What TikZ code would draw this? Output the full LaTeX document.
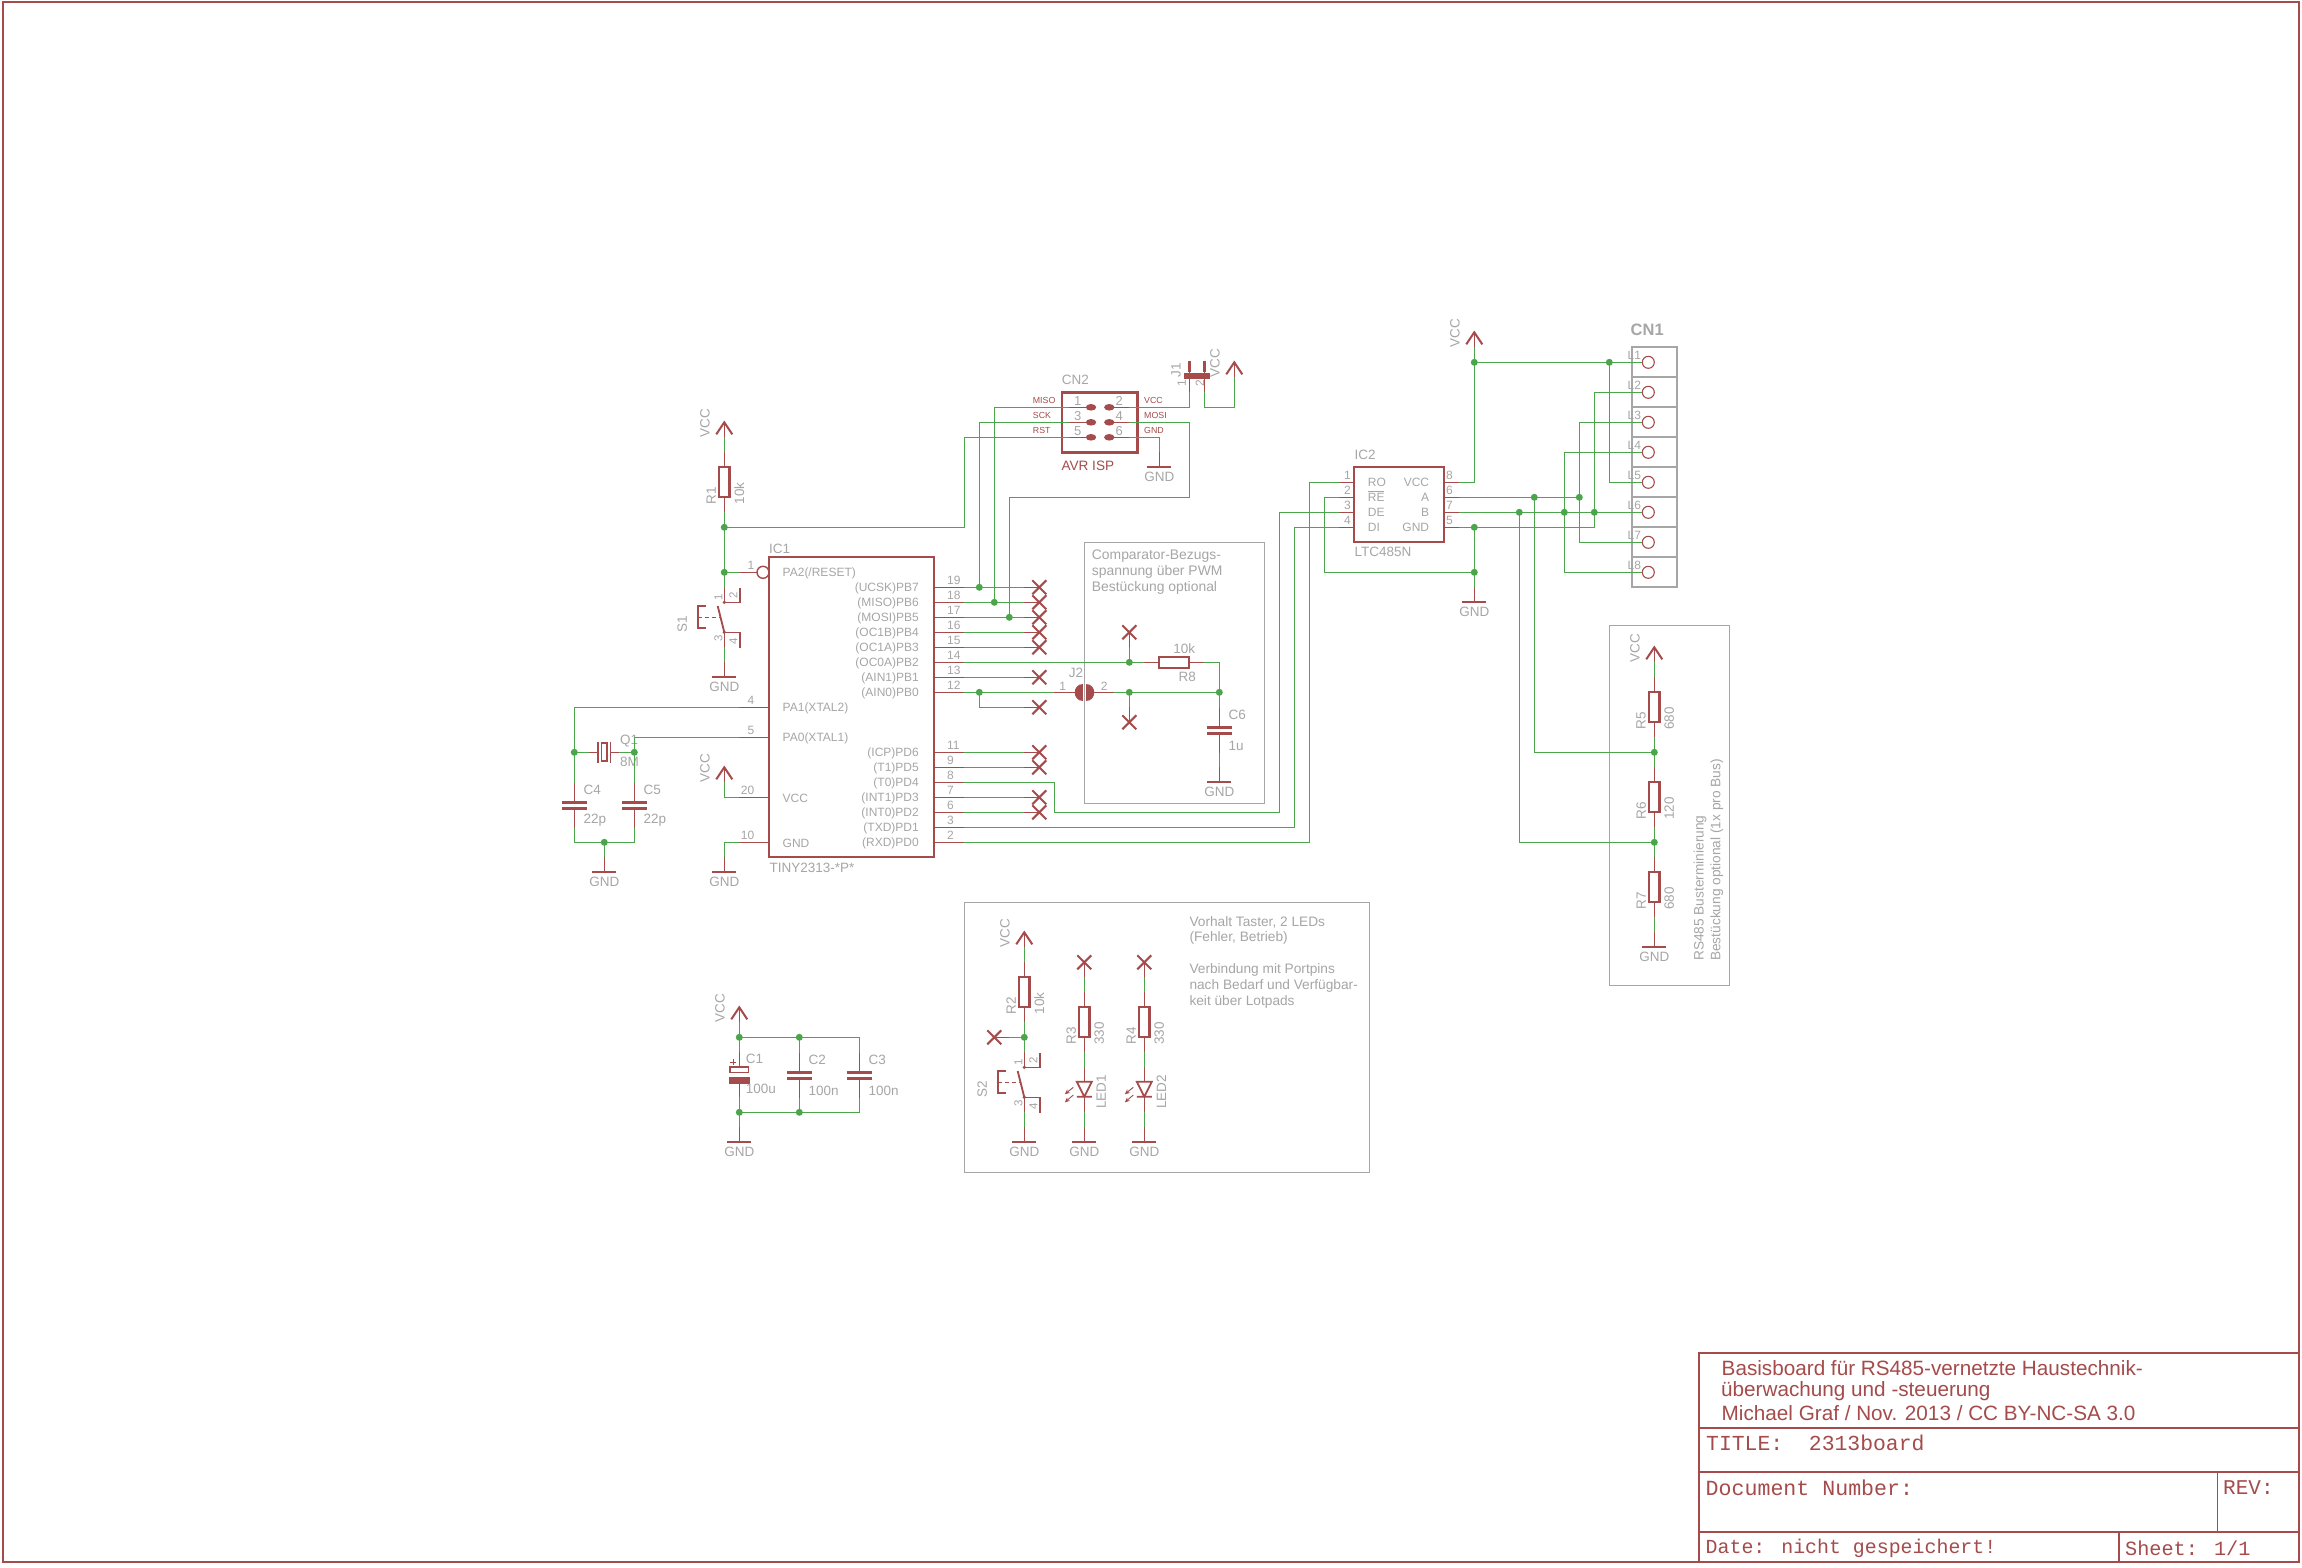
\documentclass[tikz,border=0pt]{standalone}
\usepackage{fontspec}
\setmainfont{Liberation Sans}
\newfontfamily\vecfont{Liberation Mono}
\usetikzlibrary{arrows.meta}
\definecolor{ered}{HTML}{A54B4B}
\definecolor{egreen}{HTML}{4BA54B}
\definecolor{egray}{HTML}{A6A6A6}
\newcount\labc
\newcommand\fs[1]{\fontsize{#1}{#1}\selectfont}
\tikzset{
  wire/.style={draw=egreen,line width=1.4pt,line join=miter},
  stub/.style={draw=ered,line width=1.3pt},
  sym/.style={draw=ered,line width=2.2pt,line join=miter},
  gbox/.style={draw=egray,line width=1.4pt},
  gt/.style={text=egray,inner sep=0pt,font=\fs{13.5}},
  gs/.style={text=egray,inner sep=0pt,font=\fs{12}},
  rt/.style={text=ered,inner sep=0pt,font=\fs{13.5}},
  frame/.style={draw=ered,line width=1.8pt},
  vt/.style={text=ered,inner sep=0pt,anchor=west,font=\vecfont\fs{21}},
  tt/.style={text=ered,inner sep=0pt,anchor=west,font=\fs{20.7}},
  note/.style={text=egray,inner sep=0pt,anchor=west,font=\fs{13.7}},
}
\newcommand\lab[3]{\global\advance\labc by 1 \node[#1] (lab\the\labc) at (#2) {#3};}
\newcommand\Jct[1]{\fill[egreen] (#1) circle[radius=3.5pt];}
\newcommand\VccSym[3]{\coordinate (#1) at (#2,#3);
  \draw[stub] (#2,#3) -- (#2,#3-15);
  \draw[draw=ered,line width=2pt,line join=miter] (#2-8,#3-3) -- (#2,#3-15) -- (#2+8,#3-3);
  \lab{gt,rotate=90}{#2-19.3,#3-14.3}{VCC}}
\newcommand\GndSym[3]{\coordinate (#1) at (#2,#3);
  \draw[stub] (#2,#3) -- (#2,#3+15);
  \draw[draw=ered,line width=2pt] (#2-12,#3+15) -- (#2+12,#3+15);
  \lab{gt}{#2,#3+25}{GND}}
\newcommand\ResV[5]{\coordinate (#1a) at (#2,#3-30); \coordinate (#1b) at (#2,#3+30);
  \draw[stub] (#2,#3-30) -- (#2,#3-15) (#2,#3+15) -- (#2,#3+30);
  \draw[sym] (#2-5.2,#3-15) rectangle (#2+5.2,#3+15);
  \lab{gt,rotate=90}{#2-13.2,#3+13.7}{#4}
  \lab{gt,rotate=90}{#2+15,#3+11.3}{#5}}
\newcommand\CapV[5]{\coordinate (#1a) at (#2,#3-22.5); \coordinate (#1b) at (#2,#3+22.5);
  \draw[stub] (#2,#3-22.5) -- (#2,#3-3) (#2,#3+3) -- (#2,#3+22.5);
  \draw[draw=ered,line width=2.8pt] (#2-12.5,#3-3) -- (#2+12.5,#3-3) (#2-12.5,#3+3) -- (#2+12.5,#3+3);
  \lab{gt,anchor=west}{#2+9.2,#3-15.3}{#4}
  \lab{gt,anchor=west}{#2+9.2,#3+15.3}{#5}}
\newcommand\NC[5]{\coordinate (#1) at (#4,#5);
  \draw[stub] (#2,#3) -- (#4,#5);
  \draw[draw=ered,line width=2pt] (#2-7,#3-7) -- (#2+7,#3+7) (#2-7,#3+7) -- (#2+7,#3-7);}
\newcommand\PinR[4]{\coordinate (#1) at (964.3,#4);
  \draw[stub] (934.3,#4) -- (964.3,#4);
  \lab{gs,anchor=base west}{947,#4-3}{#2}
  \lab{gs,anchor=east}{919,#4+1}{#3}}
\newcommand\PinL[4]{\coordinate (#1) at (739.3,#4);
  \draw[stub] (739.3,#4) -- (769.3,#4);
  \lab{gs,anchor=base east}{754.5,#4-3}{#2}
  \lab{gs,anchor=west}{782.5,#4+1}{#3}}
\newcommand\SwitchSym[4]{\coordinate (#1a) at (#2,#3-15); \coordinate (#1b) at (#2,#3+45);
  \draw[stub] (#2,#3-15) -- (#2,#3) (#2,#3+30) -- (#2,#3+45);
  \fill[ered] (#2,#3) circle[radius=1.8pt] (#2,#3+30) circle[radius=1.8pt];
  \draw[draw=ered,line width=1.8pt] (#2-6.6,#3+3.7) -- (#2,#3+30);
  \draw[draw=ered,line width=1.1pt] (#2,#3) -- (#2+15.7,#3) -- (#2+15.7,#3-14.6) (#2,#3+30) -- (#2+15.7,#3+30) -- (#2+15.7,#3+45.4);
  \draw[sym,line width=1.8pt] (#2-18.3,#3+3.7) -- (#2-26.6,#3+3.7) -- (#2-26.6,#3+25.4) -- (#2-18.3,#3+25.4);
  \draw[draw=ered,line width=1pt,dash pattern=on 4pt off 3pt] (#2-26.6,#3+15) -- (#2-5,#3+15);
  \lab{gs,rotate=90,font=\fs{11.5}}{#2-6,#3-5.3}{1}
  \lab{gs,rotate=90,font=\fs{11.5}}{#2+9,#3-6.6}{2}
  \lab{gs,rotate=90,font=\fs{11.5}}{#2-6,#3+35.7}{3}
  \lab{gs,rotate=90,font=\fs{11.5}}{#2+9,#3+39.4}{4}
  \lab{gt,rotate=90}{#2-42,#3+21.7}{#4}}
\newcommand\LedSym[4]{\coordinate (#1a) at (#2,#3-14.4); \coordinate (#1b) at (#2,#3+30.6);
  \draw[stub] (#2,#3-14.4) -- (#2,#3) (#2,#3+15) -- (#2,#3+30.6);
  \draw[sym,line width=1.8pt] (#2-7.5,#3) -- (#2+7.5,#3) -- (#2,#3+15) -- cycle (#2-7.5,#3+15) -- (#2+7.5,#3+15);
  \draw[draw=ered,line width=.9pt,-{Stealth[length=5pt,width=4.5pt]}] (#2-11,#3+5.6) -- (#2-19.5,#3+12.5);
  \draw[draw=ered,line width=.9pt,-{Stealth[length=5pt,width=4.5pt]}] (#2-11,#3+13.3) -- (#2-19.5,#3+20.6);
  \lab{gt,rotate=90}{#2+17,#3+10}{#4}}
\newcommand\ClPin[3]{\coordinate (#1) at (1642.3,#2);
  \draw[draw=ered,line width=1.1pt] (1648.3,#2) circle[radius=6pt];
  \lab{gs,anchor=west}{1627.5,#2-6.6}{#3}}
\begin{document}
\begin{tikzpicture}[x=1pt,y=-1pt]
\useasboundingbox (0,0) rectangle (2302,1567);
\fill[white] (0,0) rectangle (2302,1567);
% sheet frame and title block
\draw[frame] (3,1.8) rectangle (2299,1561.7);
\draw[frame] (1699.3,1561.7) -- (1699.3,1352.7) -- (2299,1352.7);
\draw[frame] (1699.3,1427.7) -- (2299,1427.7) (1699.3,1472.3) -- (2299,1472.3) (1699.3,1532.3) -- (2299,1532.3);
\draw[frame] (2217.5,1472.3) -- (2217.5,1532.3) (2119.3,1532.3) -- (2119.3,1561.7);
\lab{tt}{1721.5,1368.3}{Basisboard für RS485-vernetzte Haustechnik-}
\lab{tt}{1721,1390.7}{überwachung und -steuerung}
\lab{tt}{1721.5,1413.3}{Michael Graf / Nov. 2013 / CC BY-NC-SA 3.0}
\lab{vt,font=\vecfont\fs{21.4}}{1706,1442.7}{TITLE:\ \ 2313board}
\lab{vt,font=\vecfont\fs{21.6}}{1705.5,1487.7}{Document Number:}
\lab{vt}{2223,1487.7}{REV:}
\lab{vt,font=\vecfont\fs{19.9}}{1705.5,1548}{Date: nicht gespeichert!}
\lab{vt,font=\vecfont\fs{20.2}}{2125,1548}{Sheet: 1/1}
% gray boxes
\draw[gbox] (1084.3,542.7) rectangle (1264.3,803.3);
\lab{note,font=\fs{13.9}}{1091.7,556}{Comparator-Bezugs-}
\lab{note,font=\fs{13.9}}{1091.7,572}{spannung über PWM}
\lab{note,font=\fs{13.9}}{1091.7,588}{Bestückung optional}
\draw[gbox] (964.3,902.7) rectangle (1369.3,1172.7);
\lab{note}{1189.3,922.3}{Vorhalt Taster, 2 LEDs}
\lab{note}{1189.3,938.3}{(Fehler, Betrieb)}
\lab{note}{1189.3,970}{Verbindung mit Portpins}
\lab{note}{1189.3,986}{nach Bedarf und Verfügbar-}
\lab{note}{1189.3,1002.3}{keit über Lotpads}
\draw[gbox] (1609.3,625.3) rectangle (1729.3,985.3);
\lab{note,rotate=90}{1700,961}{RS485 Busterminierung}
\lab{note,rotate=90}{1716.7,961}{Bestückung optional (1x pro Bus)}
% IC1 symbols
\draw[sym] (769.3,557.3) rectangle (934.3,857.3);
\lab{gt,anchor=base west}{769,553}{IC1}
\lab{gt,anchor=base west}{769.3,872}{TINY2313-*P*}
\coordinate (pa2) at (739.3,572.3);
\draw[stub] (739.3,572.3) -- (757,572.3);
\draw[draw=ered,line width=1.4pt] (763,572.3) circle[radius=6pt];
\lab{gs,anchor=base east}{754.5,569.3}{1}
\lab{gs,anchor=west}{782.5,573.3}{PA2(/RESET)}
\PinL{pa1}{4}{PA1(XTAL2)}{707.3}
\PinL{pa0}{5}{PA0(XTAL1)}{737.3}
\PinL{vccp}{20}{VCC}{797.3}
\PinL{gndp}{10}{GND}{842.3}
\PinR{pb7}{19}{(UCSK)PB7}{587.3}
\PinR{pb6}{18}{(MISO)PB6}{602.3}
\PinR{pb5}{17}{(MOSI)PB5}{617.3}
\PinR{pb4}{16}{(OC1B)PB4}{632.3}
\PinR{pb3}{15}{(OC1A)PB3}{647.3}
\PinR{pb2}{14}{(OC0A)PB2}{662.3}
\PinR{pb1}{13}{(AIN1)PB1}{677.3}
\PinR{pb0}{12}{(AIN0)PB0}{692.3}
\PinR{pd6}{11}{(ICP)PD6}{752.3}
\PinR{pd5}{9}{(T1)PD5}{767.3}
\PinR{pd4}{8}{(T0)PD4}{782.3}
\PinR{pd3}{7}{(INT1)PD3}{797.3}
\PinR{pd2}{6}{(INT0)PD2}{812.3}
\PinR{pd1}{3}{(TXD)PD1}{827.3}
\PinR{pd0}{2}{(RXD)PD0}{842.3}
% wires first
\coordinate (jr1) at (724.3,527.3); \coordinate (jr2) at (724.3,572.3);
\coordinate (j7) at (979.3,587.3); \coordinate (j6) at (994.3,602.3); \coordinate (j5) at (1009.3,617.3);
\coordinate (j0) at (979.3,692.3);
\coordinate (jq1) at (574.3,752.3); \coordinate (jq2) at (634.3,752.3); \coordinate (jcg) at (604.3,842.3);
\coordinate (cn1) at (1069.3,407.3); \coordinate (cn2) at (1129.3,407.3);
\coordinate (cn3) at (1069.3,422.3); \coordinate (cn4) at (1129.3,422.3);
\coordinate (cn5) at (1069.3,437.3); \coordinate (cn6) at (1129.3,437.3);
\coordinate (jp1) at (1189.3,392.3); \coordinate (jp2) at (1204.3,392.3);
\coordinate (jc1) at (1129.3,662.3); \coordinate (jc2) at (1129.3,692.3); \coordinate (jc3) at (1219.3,692.3);
\coordinate (jl) at (1054.3,692.3); \coordinate (jr) at (1114.3,692.3);
\coordinate (i1) at (1339.3,482.3); \coordinate (i2) at (1339.3,497.3); \coordinate (i3) at (1339.3,512.3); \coordinate (i4) at (1339.3,527.3);
\coordinate (i8) at (1459.3,482.3); \coordinate (i6) at (1459.3,497.3); \coordinate (i7) at (1459.3,512.3); \coordinate (i5) at (1459.3,527.3);
\coordinate (jv) at (1474.3,362.3); \coordinate (jv2) at (1609.3,362.3);
\coordinate (jg1) at (1474.3,527.3); \coordinate (jg2) at (1474.3,572.3);
\coordinate (ja) at (1534.3,497.3); \coordinate (ja2) at (1579.3,497.3);
\coordinate (jb) at (1519.3,512.3); \coordinate (jb2) at (1564.3,512.3); \coordinate (jb3) at (1594.3,512.3);
\coordinate (jt1) at (1654.3,752.3); \coordinate (jt2) at (1654.3,842.3);
\coordinate (js2) at (1024.3,1037.3);
\coordinate (jc1t) at (739.3,1037.3); \coordinate (jc2t) at (799.3,1037.3); \coordinate (jc3t) at (859.3,1037.3);
\coordinate (jc1b) at (739.3,1112.3); \coordinate (jc2b) at (799.3,1112.3); \coordinate (jc3b) at (859.3,1112.3);
% R1, S1 and supply parts
\VccSym{vcc1}{724.3}{437.3}
\ResV{R1}{724.3}{482.3}{R1}{10k}
\SwitchSym{S1}{724.3}{602.3}{S1}
\GndSym{gnd1}{724.3}{662.3}
\VccSym{vcc2}{724.3}{782.3}
\GndSym{gnd2}{724.3}{857.3}
\GndSym{gnd3}{604.3}{857.3}
\CapV{C4}{574.3}{805.3}{C4}{22p}
\CapV{C5}{634.3}{805.3}{C5}{22p}
% crystal
\coordinate (qa) at (589.3,752.3); \coordinate (qb) at (619.3,752.3);
\draw[stub] (qa) -- (598.3,752.3) (610,752.3) -- (qb);
\draw[draw=ered,line width=1.8pt] (598,741.7) -- (598,763.3) (610.5,741.7) -- (610.5,763.3);
\draw[draw=ered,line width=1.6pt] (601.3,743) rectangle (607.1,761);
\lab{gt,anchor=west}{620,741.3}{Q1}
\lab{gt,anchor=west}{620,762.3}{8M}
% CN2
\draw[draw=ered,line width=2.6pt] (1062,392.3) rectangle (1137.5,452.5);
\draw[stub] (cn1) -- (1087,407.3) (cn3) -- (1087,422.3) (cn5) -- (1087,437.3) (1113,407.3) -- (cn2) (1113,422.3) -- (cn4) (1113,437.3) -- (cn6);
\fill[ered] (1091,407.3) ellipse[x radius=5.2pt,y radius=3.3pt] (1091,422.3) ellipse[x radius=5.2pt,y radius=3.3pt] (1091,437.3) ellipse[x radius=5.2pt,y radius=3.3pt]
 (1109.3,407.3) ellipse[x radius=5.2pt,y radius=3.3pt] (1109.3,422.3) ellipse[x radius=5.2pt,y radius=3.3pt] (1109.3,437.3) ellipse[x radius=5.2pt,y radius=3.3pt];
\lab{gt,anchor=west}{1061.7,380.3}{CN2}
\lab{rt,anchor=west,font=\fs{13.6}}{1061.3,466}{AVR ISP}
\foreach \t/\xx/\yy in {1/1077.7/400.7,3/1077.7/415.7,5/1077.7/430.7,2/1119.3/400.7,4/1119.3/415.7,6/1119.3/430.7}{\lab{gs,font=\fs{13}}{\xx,\yy}{\t}}
\foreach \t/\xx/\yy in {MISO/1032.7/400.7,SCK/1032.7/415.7,RST/1032.7/430.7,VCC/1144/400.7,MOSI/1144/415.7,GND/1144/430.7}{\lab{rt,anchor=west,font=\fs{8.8}}{\xx,\yy}{\t}}
\GndSym{gnd4}{1159.3}{452.3}
% J1
\draw[stub] (1189.3,366) -- (jp1) (1204.3,366) -- (jp2);
\draw[draw=ered,line width=2.6pt] (1189.3,360.7) -- (1189.3,372) (1204.3,360.7) -- (1204.3,372);
\draw[draw=ered,line width=6pt] (1184,375.7) -- (1210,375.7);
\lab{gt,rotate=90}{1176,370}{J1}
\lab{gs,rotate=90}{1181.7,383}{1}
\lab{gs,rotate=90}{1200,383}{2}
\VccSym{vcc3}{1234.3}{377.3}
% comparator
\NC{x1}{1129.3}{632.3}{1129.3}{647.3}
\NC{x2}{1129.3}{722.3}{1129.3}{707.3}
\coordinate (r8a) at (1144.3,662.3); \coordinate (r8b) at (1204.3,662.3);
\draw[stub] (r8a) -- (1159.3,662.3) (1189.3,662.3) -- (r8b);
\draw[sym] (1159.3,657) rectangle (1189.3,667.6);
\lab{gt}{1184.3,648.3}{10k}
\lab{gt}{1187.3,676.7}{R8}
\CapV{C6}{1219.3}{730.3}{C6}{1u}
\GndSym{gnd5}{1219.3}{767.3}
% J2
\draw[stub] (jl) -- (1075,692.3) (1094,692.3) -- (jr);
\fill[ered] (1082.7,684) .. controls (1071.5,684) and (1071.5,700.6) .. (1082.7,700.6) -- cycle;
\fill[ered] (1085.9,684) .. controls (1097.1,684) and (1097.1,700.6) .. (1085.9,700.6) -- cycle;
\lab{gs}{1062.7,686}{1}
\lab{gs}{1104.3,686}{2}
\lab{gt}{1076,672.7}{J2}
% IC2
\draw[sym] (1354.3,467.3) rectangle (1444.3,542.3);
\draw[stub] (i1) -- (1354.3,482.3) (i2) -- (1354.3,497.3) (i3) -- (1354.3,512.3) (i4) -- (1354.3,527.3)
 (i8) -- (1444.3,482.3) (i6) -- (1444.3,497.3) (i7) -- (1444.3,512.3) (i5) -- (1444.3,527.3);
\foreach \t/\yy in {1/482.3,2/497.3,3/512.3,4/527.3}{\lab{gs}{1347.5,\yy-6.7}{\t}}
\foreach \t/\yy in {8/482.3,6/497.3,7/512.3,5/527.3}{\lab{gs}{1449.5,\yy-6.7}{\t}}
\foreach \t/\yy in {RO/482.3,RE/497.3,DE/512.3,DI/527.3}{\lab{gs,anchor=west}{1367.7,\yy}{\t}}
\draw[draw=egray,line width=1pt] (1367.7,491.8) -- (1383.5,491.8);
\foreach \t/\yy in {VCC/482.3,A/497.3,B/512.3,GND/527.3}{\lab{gs,anchor=east}{1429.3,\yy}{\t}}
\lab{gt,anchor=west}{1354.3,455.3}{IC2}
\lab{gt,anchor=west}{1354.3,552.3}{LTC485N}
\VccSym{vcc4}{1474.3}{347.3}
\GndSym{gnd6}{1474.3}{587.3}
% CN1
\foreach \i in {0,...,7}{\draw[draw=egray,line width=1.8pt] (1632.3,347.3+30*\i) rectangle (1677,377.3+30*\i);}
\lab{gt,anchor=west,font=\bfseries\fs{16.5}}{1630.5,330}{CN1}
\ClPin{l1}{362.3}{L1} \ClPin{l2}{392.3}{L2} \ClPin{l3}{422.3}{L3} \ClPin{l4}{452.3}{L4}
\ClPin{l5}{482.3}{L5} \ClPin{l6}{512.3}{L6} \ClPin{l7}{542.3}{L7} \ClPin{l8}{572.3}{L8}
% termination
\VccSym{vcc5}{1654.3}{662.3}
\ResV{R5}{1654.3}{707.3}{R5}{680}
\ResV{R6}{1654.3}{797.3}{R6}{120}
\ResV{R7}{1654.3}{887.3}{R7}{680}
\GndSym{gnd7}{1654.3}{932.3}
% lower section
\VccSym{vcc6}{1024.3}{947.3}
\ResV{R2}{1024.3}{992.3}{R2}{10k}
\NC{x3}{994.3}{1037.3}{1009.3}{1037.3}
\SwitchSym{S2}{1024.3}{1067.3}{S2}
\GndSym{gnd8}{1024.3}{1127.3}
\NC{x4}{1084.3}{962.3}{1084.3}{977.3}
\ResV{R3}{1084.3}{1022.3}{R3}{330}
\LedSym{D1}{1084.3}{1081.7}{LED1}
\GndSym{gnd9}{1084.3}{1127.3}
\NC{x5}{1144.3}{962.3}{1144.3}{977.3}
\ResV{R4}{1144.3}{1022.3}{R4}{330}
\LedSym{D2}{1144.3}{1081.7}{LED2}
\GndSym{gnd10}{1144.3}{1127.3}
% capacitors block
\VccSym{vcc7}{739.3}{1022.3}
\coordinate (C1a) at (739.3,1052.3); \coordinate (C1b) at (739.3,1097.3);
\draw[stub] (C1a) -- (739.3,1067) (739.3,1084) -- (C1b);
\draw[draw=ered,line width=1.8pt] (730,1067) rectangle (748.5,1072.5);
\fill[ered] (729,1077.3) rectangle (750,1084);
\draw[draw=ered,line width=1pt] (730.3,1062.3) -- (736.3,1062.3) (733.3,1059.3) -- (733.3,1065.3);
\lab{gt,anchor=west}{745.7,1059}{C1}
\lab{gt,anchor=west}{745.7,1089.3}{100u}
\CapV{C2}{799.3}{1075.3}{C2}{100n}
\CapV{C3}{859.3}{1075.3}{C3}{100n}
\GndSym{gnd11}{739.3}{1127.3}
% X marks at IC1
\foreach \n/\yy in {n7/587.3,n6/602.3,n5/617.3,n4/632.3,n3/647.3,n1/677.3,n0/707.3,nd6/752.3,nd5/767.3,nd3/797.3,nd2/812.3}{\NC{\n}{1039.3}{\yy}{1024.3}{\yy}}
% green wires
\begin{scope}[every path/.style={wire}]
\draw (vcc1) -- (R1a);
\draw (R1b) -- (jr1) -- (jr2) -- (S1a);
\draw (jr2) -- (pa2);
\draw (S1b) -- (gnd1);
\draw (jr1) -- (964.3,527.3) -- (964.3,437.3) -- (cn5);
\draw (j7) -- (979.3,422.3) -- (cn3);
\draw (j6) -- (994.3,407.3) -- (cn1);
\draw (j5) -- (1009.3,497.3) -- (1189.3,497.3) -- (1189.3,422.3) -- (cn4);
\draw (cn2) -- (1189.3,407.3) -- (jp1);
\draw (jp2) -- (1204.3,407.3) -- (1234.3,407.3) -- (vcc3);
\draw (cn6) -- (1159.3,437.3) -- (gnd4);
\draw (pb7) -- (n7); \draw (pb6) -- (n6); \draw (pb5) -- (n5); \draw (pb4) -- (n4); \draw (pb3) -- (n3);
\draw (pb1) -- (n1); \draw (pd6) -- (nd6); \draw (pd5) -- (nd5); \draw (pd3) -- (nd3); \draw (pd2) -- (nd2);
\draw (pb0) -- (j0) -- (jl);
\draw (j0) -- (979.3,707.3) -- (n0);
\draw (pb2) -- (jc1) -- (r8a);
\draw (jc1) -- (x1);
\draw (r8b) -- (1219.3,662.3) -- (jc3);
\draw (jr) -- (jc2) -- (jc3) -- (C6a);
\draw (jc2) -- (x2);
\draw (C6b) -- (gnd5);
\draw (pa1) -- (574.3,707.3) -- (jq1) -- (C4a);
\draw (pa0) -- (634.3,737.3) -- (jq2) -- (C5a);
\draw (jq1) -- (qa); \draw (qb) -- (jq2);
\draw (C4b) -- (574.3,842.3) -- (jcg) -- (634.3,842.3) -- (C5b);
\draw (jcg) -- (gnd3);
\draw (vcc2) -- (724.3,797.3) -- (vccp);
\draw (gndp) -- (724.3,842.3) -- (gnd2);
\draw (pd4) -- (1054.3,782.3) -- (1054.3,812.3) -- (1279.3,812.3) -- (1279.3,512.3) -- (i3);
\draw (pd1) -- (1294.3,827.3) -- (1294.3,527.3) -- (i4);
\draw (pd0) -- (1309.3,842.3) -- (1309.3,482.3) -- (i1);
\draw (i2) -- (1324.3,497.3) -- (1324.3,572.3) -- (jg2);
\draw (i8) -- (1474.3,482.3) -- (jv);
\draw (vcc4) -- (jv) -- (jv2) -- (l1);
\draw (jv2) -- (1609.3,482.3) -- (l5);
\draw (l2) -- (1594.3,392.3) -- (jb3);
\draw (jb3) -- (1594.3,527.3) -- (jg1) -- (i5);
\draw (jg1) -- (jg2) -- (gnd6);
\draw (i6) -- (ja) -- (ja2);
\draw (l3) -- (1579.3,422.3) -- (ja2) -- (1579.3,542.3) -- (l7);
\draw (i7) -- (jb) -- (jb2) -- (jb3) -- (l6);
\draw (l4) -- (1564.3,452.3) -- (jb2) -- (1564.3,572.3) -- (l8);
\draw (ja) -- (1534.3,752.3) -- (jt1);
\draw (jb) -- (1519.3,842.3) -- (jt2);
\draw (vcc5) -- (R5a);
\draw (R5b) -- (jt1) -- (R6a);
\draw (R6b) -- (jt2) -- (R7a);
\draw (R7b) -- (gnd7);
\draw (vcc6) -- (R2a);
\draw (R2b) -- (js2) -- (S2a);
\draw (x3) -- (js2);
\draw (S2b) -- (gnd8);
\draw (x4) -- (R3a); \draw (R3b) -- (D1a); \draw (D1b) -- (gnd9);
\draw (x5) -- (R4a); \draw (R4b) -- (D2a); \draw (D2b) -- (gnd10);
\draw (vcc7) -- (jc1t) -- (C1a);
\draw (jc1t) -- (jc2t) -- (jc3t) -- (C3a);
\draw (jc2t) -- (C2a);
\draw (C1b) -- (jc1b) -- (gnd11);
\draw (jc1b) -- (jc2b) -- (jc3b) -- (C3b);
\draw (jc2b) -- (C2b);
\end{scope}
% junction dots
\foreach \p in {jr1,jr2,j7,j6,j5,j0,jq1,jq2,jcg,jc1,jc2,jc3,jv,jv2,jg1,jg2,ja,ja2,jb,jb2,jb3,jt1,jt2,js2,jc1t,jc2t,jc1b,jc2b}{\Jct{\p}}
\end{tikzpicture}
\end{document}
